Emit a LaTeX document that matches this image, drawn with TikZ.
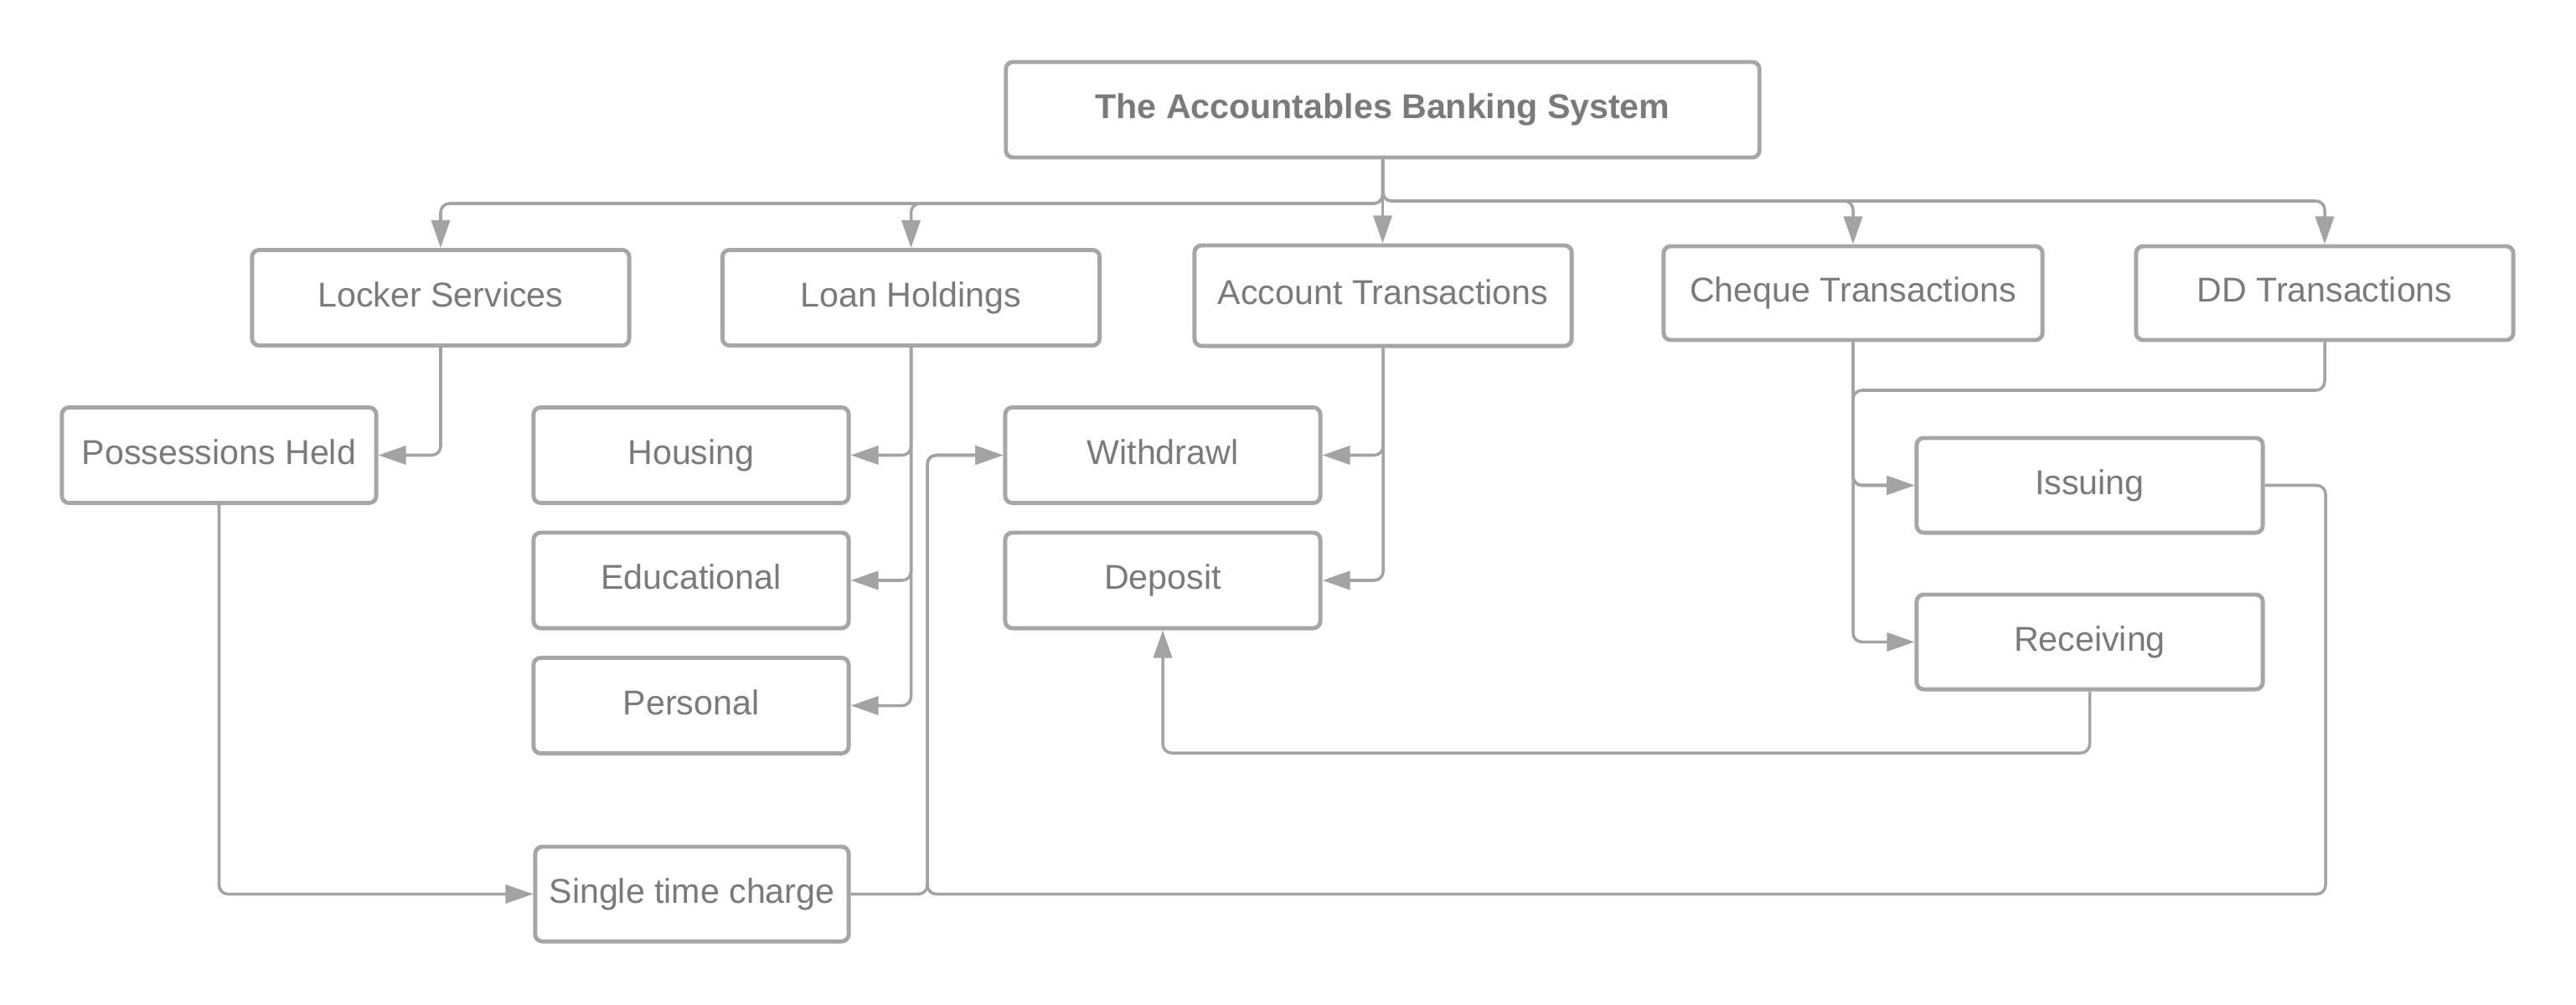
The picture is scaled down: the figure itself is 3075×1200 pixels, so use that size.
\documentclass[tikz,border=0pt]{standalone}
\usepackage{fontspec}
\setmainfont{Liberation Sans}
\usetikzlibrary{arrows.meta}
\definecolor{boxgray}{HTML}{A6A6A6}
\definecolor{txtgray}{HTML}{7A7A7A}
\definecolor{lngray}{HTML}{A3A3A3}
\tikzset{
  box/.style={draw=boxgray, line width=1.4pt, rounded corners=2.4pt, fill=white,
    inner sep=0pt, text=txtgray, font=\fontsize{11.7}{14}\selectfont,
    text height=8.4pt, text depth=2.3pt, minimum width=3.76cm, minimum height=1.14cm},
  topbox/.style={box, minimum width=4.5cm},
  conn/.style={draw=lngray, line width=1pt, rounded corners=3pt,
    -{Triangle[length=0.33cm,width=0.22cm]}},
  plain/.style={draw=lngray, line width=1pt, rounded corners=3pt}
}
\begin{document}
\begin{tikzpicture}[x=0.01cm,y=-0.01cm]
\useasboundingbox (0,0) rectangle (3075,1200);
% nodes
\node[box, minimum width=8.99cm, font=\fontsize{11.7}{14}\selectfont\bfseries] (root) at (1650.5,131) {The Accountables Banking System};
\node[topbox] (locker) at (526,355.5) {Locker Services};
\node[topbox] (loan) at (1087.5,355.5) {Loan Holdings};
\node[topbox, minimum height=1.2cm] (account) at (1651,353) {Account Transactions};
\node[topbox, minimum width=4.52cm, minimum height=1.12cm] (cheque) at (2212,350) {Cheque Transactions};
\node[topbox, minimum height=1.12cm] (dd) at (2775,350) {DD Transactions};
\node[box, minimum width=3.75cm] (poss) at (261.5,543.5) {Possessions Held};
\node[box] (housing) at (825,543.5) {Housing};
\node[box] (edu) at (825,693) {Educational};
\node[box] (personal) at (825,842.5) {Personal};
\node[box] (withdraw) at (1388,543.5) {Withdrawl};
\node[box] (deposit) at (1388,693) {Deposit};
\node[box, minimum width=4.13cm, minimum height=1.13cm] (issuing) at (2494.5,579.5) {Issuing};
\node[box, minimum width=4.13cm, minimum height=1.13cm] (receiving) at (2494.5,766.5) {Receiving};
\node[box, minimum width=3.74cm, minimum height=1.13cm] (stc) at (826,1067.5) {Single time charge};
% junction coordinates
\coordinate (busL) at (1650.5,243);
\coordinate (busR) at (1650.5,240);
\coordinate (ddj) at (2212,466);
\coordinate (rd) at (1388,899);
\coordinate (sj) at (1107,1067.5);
\coordinate (ib) at (2776,1067.5);
% connectors from root
\draw[conn] (root.south) -- (busL) -| (locker.north);
\draw[conn] (root.south) -- (busL) -| (loan.north);
\draw[conn] (root.south) -- (root.south |- account.north);
\draw[conn] (root.south) -- (busR) -| (cheque.north);
\draw[conn] (root.south) -- (busR) -| (dd.north);
% second level
\draw[conn] (locker.south) |- (poss.east);
\draw[conn] (loan.south) |- (housing.east);
\draw[conn] (loan.south) |- (edu.east);
\draw[conn] (loan.south) |- (personal.east);
\draw[conn] (account.south) |- (withdraw.east);
\draw[conn] (account.south) |- (deposit.east);
\draw[conn] (cheque.south) |- (issuing.west);
\draw[conn] (cheque.south) |- (receiving.west);
\draw[conn] (dd.south) |- (ddj) |- (issuing.west);
\draw[conn] (receiving.south) |- (rd) -- (deposit.south);
\draw[conn] (poss.south) |- (stc.west);
\draw[conn] (stc.east) -- (sj) |- (withdraw.west);
\draw[conn] (issuing.east) -| (ib) -- (sj) |- (withdraw.west);
\end{tikzpicture}
\end{document}
